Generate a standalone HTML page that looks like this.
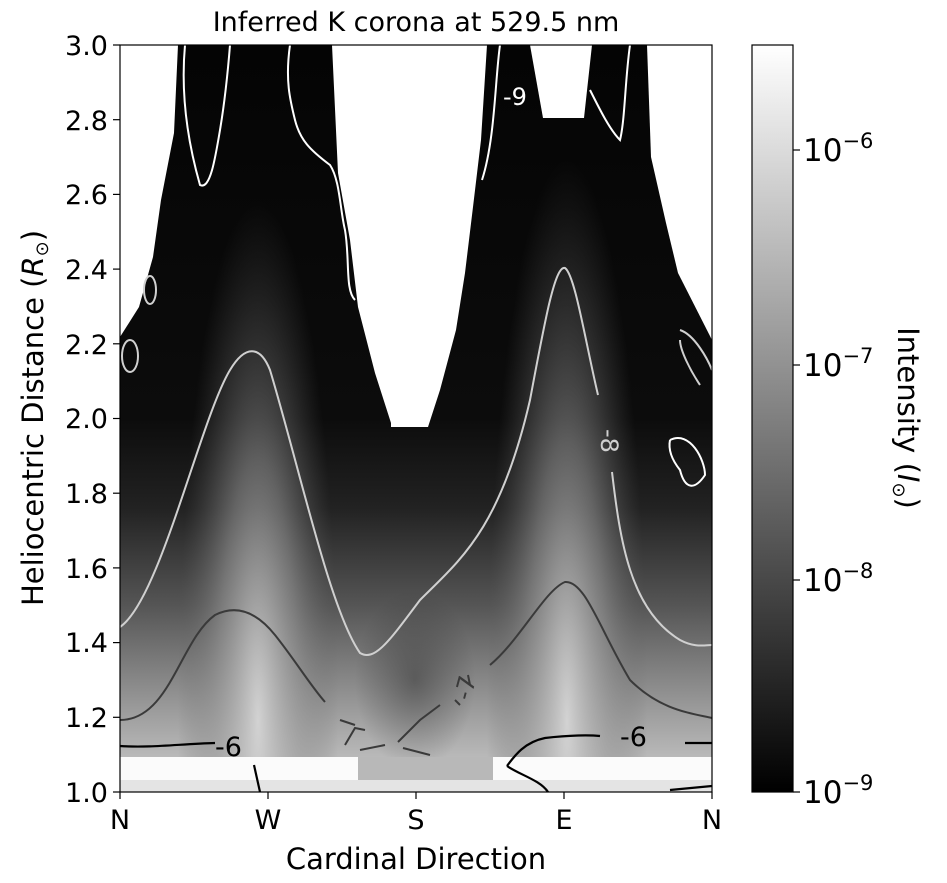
<!DOCTYPE html>
<html><head><meta charset="utf-8"><style>
html,body{margin:0;padding:0;background:#fff;width:947px;height:883px;overflow:hidden;}
svg{display:block;font-family:"DejaVu Sans","Liberation Sans",sans-serif;}
</style></head><body>
<svg width="947" height="883" viewBox="0 0 947 883" xmlns="http://www.w3.org/2000/svg">
<defs>
<linearGradient id="bg" x1="0" y1="792" x2="0" y2="45" gradientUnits="userSpaceOnUse">
<stop offset="0" stop-color="#cfcfcf"/>
<stop offset="0.1" stop-color="#a0a0a0"/>
<stop offset="0.25" stop-color="#555"/>
<stop offset="0.38" stop-color="#222"/>
<stop offset="0.5" stop-color="#0c0c0c"/>
<stop offset="1" stop-color="#040404"/>
</linearGradient>
<radialGradient id="lobe" cx="0.5" cy="0.5" r="0.5">
<stop offset="0" stop-color="#d8d8d8" stop-opacity="0.9"/>
<stop offset="0.5" stop-color="#9a9a9a" stop-opacity="0.55"/>
<stop offset="1" stop-color="#606060" stop-opacity="0"/>
</radialGradient>
<radialGradient id="dark" cx="0.5" cy="0.5" r="0.5">
<stop offset="0" stop-color="#303030" stop-opacity="0.5"/>
<stop offset="1" stop-color="#303030" stop-opacity="0"/>
</radialGradient>
<linearGradient id="cb" x1="0" y1="792" x2="0" y2="45" gradientUnits="userSpaceOnUse">
<stop offset="0" stop-color="#000"/>
<stop offset="1" stop-color="#fff"/>
</linearGradient>
<clipPath id="pc"><rect x="120" y="45" width="592" height="747"/></clipPath>
</defs>
<g clip-path="url(#pc)">
<rect x="120" y="45" width="592" height="747" fill="url(#bg)"/>
<ellipse cx="258" cy="720" rx="80" ry="520" fill="url(#lobe)"/>
<ellipse cx="567" cy="720" rx="80" ry="560" fill="url(#lobe)"/>
<ellipse cx="415" cy="680" rx="60" ry="90" fill="url(#dark)"/>
<path d="M120,45 L178,45 L174,133 L161,200 L153,257 L139,307 L120,337 Z" fill="#fff"/>
<path d="M332,45 L338,173 L350,240 L358,307 L375,373 L391,423 L391,427 L428,427 L440,390 L456,330 L465,273 L473,207 L481,140 L487,45 Z" fill="#fff"/>
<path d="M530,45 L543,118 L584,118 L592,45 Z" fill="#fff"/>
<path d="M647,45 L651,157 L666,223 L678,273 L712,340 L712,45 Z" fill="#fff"/>
<rect x="120" y="757" width="592" height="23" fill="#fbfbfb"/>
<rect x="358" y="757" width="135" height="23" fill="#b8b8b8"/>
<rect x="120" y="780" width="592" height="12" fill="#e4e4e4"/>
<g fill="none" stroke="#fff" stroke-width="2">
<path d="M185,45 C180,100 190,150 200,185 C210,190 215,160 220,130 C225,100 228,70 230,45"/>
<path d="M290,45 C285,80 290,100 295,120 C300,140 310,150 330,165 C340,180 340,210 345,230 C350,260 345,290 355,300"/>
<path d="M500,45 C495,80 495,140 482,180"/>
<path d="M590,90 C600,110 610,130 620,140 C625,120 625,80 630,45"/>
<path d="M670,440 C690,430 705,460 705,475 C695,490 685,490 680,470 C672,460 668,450 670,440"/>
</g>
<g fill="none" stroke="#d0d0d0" stroke-width="2">
<path d="M120,627 C160,600 200,420 230,370 C245,345 260,345 270,370 C300,470 330,610 360,653 C375,662 390,640 420,600 C460,560 500,530 530,400 C545,320 555,265 565,268 C575,275 585,340 598,395"/>
<path d="M612,472 C620,540 630,610 680,640 C695,648 705,645 712,645"/>
<ellipse cx="130" cy="356" rx="8" ry="16"/>
<ellipse cx="150" cy="290" rx="6" ry="14"/>
<path d="M680,330 C695,335 708,360 712,370 M700,385 C690,370 680,350 680,340"/>
</g>
<text x="597" y="447" fill="#d0d0d0" font-size="24" transform="rotate(90 608 440)">-8</text>
<text x="503" y="105" fill="#fff" font-size="24">-9</text>
<g fill="none" stroke="#3a3a3a" stroke-width="2">
<path d="M120,720 C170,720 180,640 215,615 C235,605 255,610 275,635 C295,660 310,685 325,702"/>
<path d="M340,720 L355,725 M345,745 L355,728 L365,730"/>
<path d="M360,750 L385,745 M398,742 L420,720 L440,705 M403,748 L430,755"/>
<path d="M455,700 L460,705 M470,685 L468,675"/>
<path d="M490,665 C520,640 545,590 565,582 C585,580 600,630 630,680 C660,710 690,713 712,718"/>
</g>
<text x="456" y="697" fill="#3a3a3a" font-size="24" transform="rotate(-75 466 690)">-7</text>
<g fill="none" stroke="#000" stroke-width="2.2">
<path d="M120,746 C150,748 180,744 215,743"/>
<path d="M507,766 C515,755 525,742 545,738 C570,735 590,735 600,736"/>
<path d="M507,766 C520,775 540,780 548,792"/>
<path d="M685,743 L712,743"/>
<path d="M254,765 L260,792"/>
<path d="M670,790 L712,786"/>
</g>
<text x="215" y="756" fill="#000" font-size="27">-6</text>
<text x="620" y="746" fill="#000" font-size="27">-6</text>
</g>
<rect x="120" y="45" width="592" height="747" fill="none" stroke="#000" stroke-width="1.2"/>
<g stroke="#000" stroke-width="1.2">
<line x1="113" y1="792" x2="120" y2="792"/><line x1="113" y1="717.3" x2="120" y2="717.3"/>
<line x1="113" y1="642.6" x2="120" y2="642.6"/><line x1="113" y1="567.9" x2="120" y2="567.9"/>
<line x1="113" y1="493.2" x2="120" y2="493.2"/><line x1="113" y1="418.5" x2="120" y2="418.5"/>
<line x1="113" y1="343.8" x2="120" y2="343.8"/><line x1="113" y1="269.1" x2="120" y2="269.1"/>
<line x1="113" y1="194.4" x2="120" y2="194.4"/><line x1="113" y1="119.7" x2="120" y2="119.7"/>
<line x1="113" y1="45" x2="120" y2="45"/>
<line x1="120" y1="792" x2="120" y2="799"/><line x1="268" y1="792" x2="268" y2="799"/>
<line x1="416" y1="792" x2="416" y2="799"/><line x1="564" y1="792" x2="564" y2="799"/>
<line x1="712" y1="792" x2="712" y2="799"/>
</g>
<g font-size="27" text-anchor="end" fill="#000">
<text x="108" y="802">1.0</text><text x="108" y="727">1.2</text><text x="108" y="652">1.4</text>
<text x="108" y="578">1.6</text><text x="108" y="503">1.8</text><text x="108" y="428">2.0</text>
<text x="108" y="354">2.2</text><text x="108" y="279">2.4</text><text x="108" y="204">2.6</text>
<text x="108" y="130">2.8</text><text x="108" y="55">3.0</text>
</g>
<g font-size="27" text-anchor="middle" fill="#000">
<text x="120" y="829">N</text><text x="268" y="829">W</text><text x="416" y="829">S</text>
<text x="564" y="829">E</text><text x="712" y="829">N</text>
<text x="416" y="869" font-size="29">Cardinal Direction</text>
<text x="416" y="31" font-size="27">Inferred K corona at 529.5 nm</text>
<text font-size="29" transform="translate(43 418) rotate(-90)">Heliocentric Distance (<tspan font-style="italic">R</tspan><tspan font-size="18" dy="5">⊙</tspan><tspan dy="-5">)</tspan></text>
</g>
<rect x="752" y="45" width="41" height="747" fill="url(#cb)" stroke="#000" stroke-width="1.2"/>
<g stroke="#000" stroke-width="1.2">
<line x1="793" y1="150" x2="800" y2="150"/><line x1="793" y1="365" x2="800" y2="365"/>
<line x1="793" y1="580" x2="800" y2="580"/><line x1="793" y1="792" x2="800" y2="792"/>
</g>
<g font-size="31" fill="#000">
<text x="803" y="161">10<tspan font-size="21" dy="-13">−6</tspan></text>
<text x="803" y="376">10<tspan font-size="21" dy="-13">−7</tspan></text>
<text x="803" y="591">10<tspan font-size="21" dy="-13">−8</tspan></text>
<text x="803" y="803">10<tspan font-size="21" dy="-13">−9</tspan></text>
</g>
<text font-size="29" fill="#000" text-anchor="middle" transform="translate(898 418) rotate(90)">Intensity (<tspan font-style="italic">I</tspan><tspan font-size="18" dy="5">⊙</tspan><tspan dy="-5">)</tspan></text>
</svg>
</body></html>
